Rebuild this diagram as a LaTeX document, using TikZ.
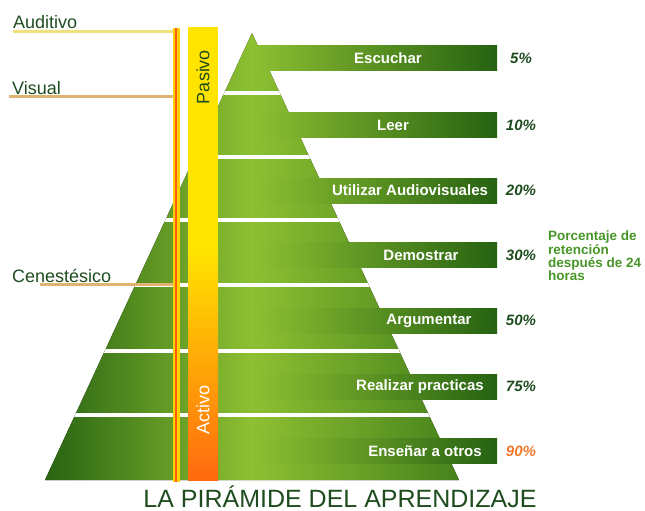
\documentclass[tikz,border=0pt]{standalone}
\usepackage{fontspec}
\setmainfont{Liberation Sans}
\usetikzlibrary{positioning}
\definecolor{txtgreen}{RGB}{30,76,30}
\definecolor{notegreen}{RGB}{72,150,40}
\definecolor{pyrdark}{RGB}{40,100,18}
\definecolor{pyrlight}{RGB}{142,192,50}
\definecolor{pyrright}{RGB}{70,130,28}
\definecolor{bardark}{RGB}{38,98,18}
\definecolor{pasyellow}{RGB}{255,228,0}
\definecolor{actorange}{RGB}{255,105,15}
\definecolor{audline}{RGB}{240,224,120}
\definecolor{tanline}{RGB}{222,180,112}
\definecolor{pctorange}{RGB}{240,120,40}
\tikzset{
  sidelabel/.style={anchor=base west, inner sep=0pt, text=txtgreen, font=\fontsize{18}{20}\selectfont},
  steplabel/.style={inner sep=0pt, text=white, font=\bfseries\fontsize{15}{17}\selectfont},
  percent/.style={inner sep=0pt, font=\bfseries\itshape\fontsize{15}{17}\selectfont},
  barlabel/.style={inner sep=0pt, rotate=90, font=\fontsize{18}{20}\selectfont}
}

\begin{document}
\begin{tikzpicture}[x=1pt, y=-1pt]
  \useasboundingbox (0,0) rectangle (645,511);
  % pyramid
  \fill[left color=pyrdark, right color=pyrright, middle color=pyrlight]
    (252,33) -- (459,480) -- (45,480) -- cycle;
  \begin{scope}
    \clip (252,33) -- (459,480) -- (45,480) -- cycle;
    \foreach \gy in {93,157,220,285,351,415}
      \draw[white, line width=4.5pt] (0,\gy) -- (500,\gy);% white gaps between layers
  \end{scope}
  % layers: bar, label, retention
  \foreach \by/\name/\lx/\txt/\pct/\pcol in {
      58/esc/388/Escuchar/5/txtgreen,
      125/lee/393/Leer/10/txtgreen,
      190.5/aud/410/Utilizar Audiovisuales/20/txtgreen,
      255/dem/421/Demostrar/30/txtgreen,
      320.5/arg/429/Argumentar/50/txtgreen,
      386.5/rea/420/Realizar practicas/75/txtgreen,
      451/ens/425/Enseñar a otros/90/pctorange}
  {
    \fill[left color=pyrlight, right color=bardark] (252,\by-12.5) rectangle (497,\by+12.5);
    \node[steplabel] (\name) at (\lx,\by) {\txt};
    \node[percent, text=\pcol] (p\name) at (521,\by) {\pct\%};
  }
  \node[anchor=north west, align=left, inner sep=0pt, text=notegreen,
        font=\bfseries\fontsize{13.5}{12.5}\selectfont] (note) at (548,231)
        {Porcentaje de\\retención\\después de 24\\horas};
  % senses on the left
  \coordinate (vtop) at (176,28);
  \coordinate (vbot) at (176,482);
  \node[sidelabel] (audi) at (13,29) {Auditivo};
  \node[sidelabel] (visu) at (12,94) {Visual};
  \node[sidelabel] (cene) at (12,282) {Cenestésico};
  \coordinate (audiend) at ([yshift=-3pt]audi.base west);
  \coordinate (visuend) at ([xshift=-3pt, yshift=-2pt]visu.base west);
  \coordinate (ceneend) at ([xshift=28pt, yshift=-2pt]cene.base west);
  \draw[audline, line width=3pt] (audiend) -- (audiend -| vtop);
  \draw[tanline, line width=3pt] (visuend) -- (visuend -| vtop);
  \draw[tanline, line width=3pt] (ceneend) -- (ceneend -| vtop);
  \draw[pasyellow!80!orange, line width=7pt] (vtop) -- (vbot);% thin line
  \draw[actorange!90!red, line width=2.5pt] (vtop) -- (vbot);
  % pasivo / activo
  \fill[pasyellow] (188,27) rectangle (218,252);
  \fill[top color=pasyellow, bottom color=actorange] (188,250) rectangle (218,480);
  \node[barlabel, text=txtgreen] (pas) at (203,77) {Pasivo};
  \node[barlabel, text=white] (act) at (203,410) {Activo};
  % title
  \node[inner sep=0pt, text=txtgreen, font=\fontsize{25}{28}\selectfont] (title)
    at (340,497) {LA PIRÁMIDE DEL APRENDIZAJE};
\end{tikzpicture}
\end{document}
